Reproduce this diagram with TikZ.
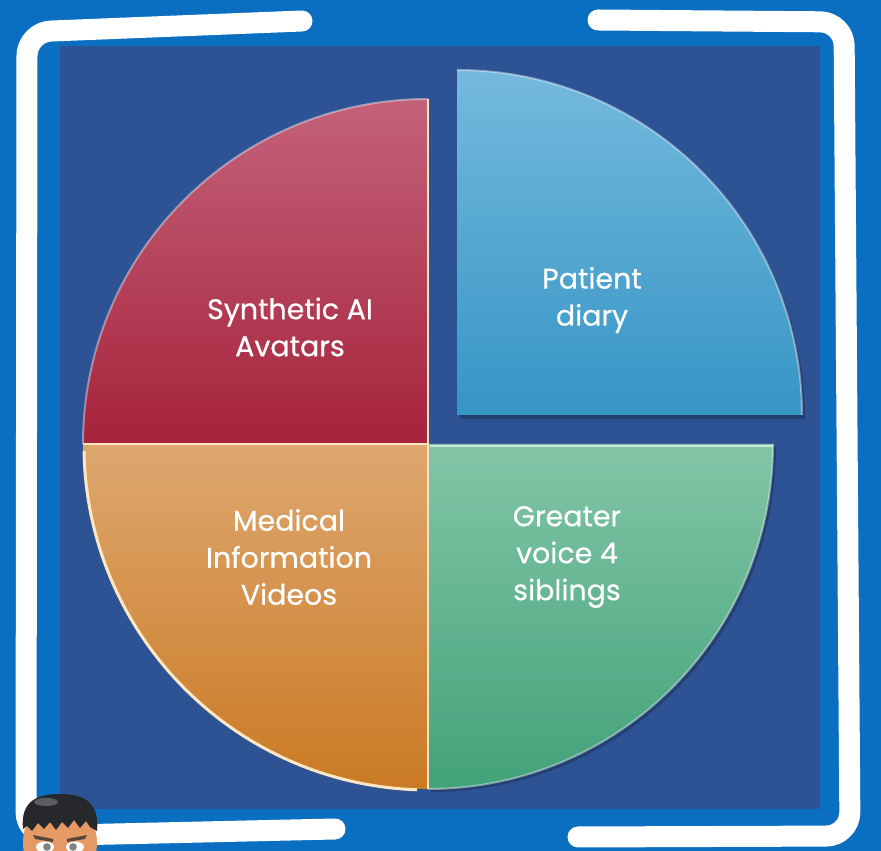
\documentclass[tikz,border=0pt]{standalone}
\usepackage{fontspec}
\setmainfont{Poppins}
\newfontfamily\slicefont{Poppins}[FakeBold=0.5]
\begin{document}
\begin{tikzpicture}[x=1pt,y=1pt,
  frame/.style={draw=white, line width=21pt, line cap=round, line join=round, rounded corners=24pt},
  slicetext/.style={text=white, align=center, inner sep=0pt, font=\slicefont\fontsize{28.5}{37}\selectfont},
  rim/.style={draw=white, draw opacity=0.4, line width=2pt},
  divider/.style={draw=cream, line width=2.2pt},
]
\definecolor{outerblue}{HTML}{0A6FC1}
\definecolor{navy}{HTML}{2E5394}
\definecolor{redtop}{HTML}{C3627A}
\definecolor{redbot}{HTML}{A6233B}
\definecolor{bluetop}{HTML}{74BADD}
\definecolor{bluebot}{HTML}{3695C5}
\definecolor{orangetop}{HTML}{DDA76F}
\definecolor{orangebot}{HTML}{CB7A24}
\definecolor{greentop}{HTML}{82C5A7}
\definecolor{greenbot}{HTML}{43A27A}
\definecolor{cream}{HTML}{FCE7C0}
\definecolor{hair}{HTML}{26282C}
\definecolor{skin}{HTML}{E59A66}

% canvas
\useasboundingbox (0,0) rectangle (881,851);
\fill[outerblue] (0,0) rectangle (881,851);
\fill[navy] (60,42) rectangle (820,805);

% hand-drawn white frame, open at top and bottom middle
\draw[frame] (302,830) -- (27,819) -- (26,15) -- (335,22);
\draw[frame] (598,831) -- (844,829) -- (850,15) -- (578,14);

% exploded slice: upper right
\fill[black, opacity=0.22] (460,432) -- (805,432) arc[start angle=0, end angle=90, radius=345] -- cycle;
\shade[top color=bluetop, bottom color=bluebot] (457,436) -- (802,436) arc[start angle=0, end angle=90, radius=345] -- cycle;
\draw[rim] (802,436) arc[start angle=0, end angle=90, radius=345];

% remaining three slices around centre (428,407)
\fill[black, opacity=0.22] (431,403) -- (431,59) arc[start angle=270, end angle=360, radius=345] -- cycle;
\shade[top color=redtop, bottom color=redbot] (428,407) -- (83,407) arc[start angle=180, end angle=90, radius=345] -- cycle;
\shade[top color=orangetop, bottom color=orangebot] (428,407) -- (428,62) arc[start angle=270, end angle=180, radius=345] -- cycle;
\shade[top color=greentop, bottom color=greenbot] (428,407) -- (773,407) arc[start angle=0, end angle=-90, radius=345] -- cycle;

\draw[rim] (83,407) arc[start angle=180, end angle=90, radius=345];
\draw[rim] (773,407) arc[start angle=0, end angle=-90, radius=345];
\draw[draw=cream, line width=3pt] (84,400) arc[start angle=181, end angle=268, radius=345];

% slice dividers
\draw[divider] (83,407) -- (428,407);
\draw[divider] (428,62) -- (428,752);
\draw[draw=white, draw opacity=0.6, line width=1.5pt] (430,405) -- (773,405);

% labels
\node[slicetext] (avatars) at (290,524) {Synthetic AI\\Avatars};
\node[slicetext] (diary) at (592,551) {Patient\\diary};
\node[slicetext] (videos) at (289,294) {Medical\\Information\\Videos};
\node[slicetext] (siblings) at (567,294) {Greater\\voice 4\\siblings};

% cartoon head in the lower left corner
\begin{scope}
  \clip (0,0) rectangle (881,851);
  \fill[skin] (60,8) ellipse[x radius=37, y radius=44];
  \fill[hair] (23,22) .. controls (20,52) and (40,57) .. (60,57)
              .. controls (82,57) and (100,50) .. (97,20)
              -- (90,24) -- (86,30) -- (80,23) -- (74,31) -- (68,23) -- (62,29)
              -- (56,21) -- (50,29) -- (44,22) -- (38,28) -- (32,20) -- (27,25) -- cycle;
  \fill[white, opacity=0.25] (46,49) ellipse[x radius=12, y radius=4];
  \fill[hair!75!skin] (33,16) -- (53,12) -- (53,9) -- (35,12) -- cycle;
  \fill[hair!75!skin] (87,16) -- (67,12) -- (67,9) -- (85,12) -- cycle;
  \fill[white] (45,4) ellipse[x radius=9, y radius=5.5];
  \fill[white] (75,4) ellipse[x radius=9, y radius=5.5];
  \fill[gray] (47,4) circle[radius=3.8];
  \fill[gray] (73,4) circle[radius=3.8];
\end{scope}
\end{tikzpicture}
\end{document}
